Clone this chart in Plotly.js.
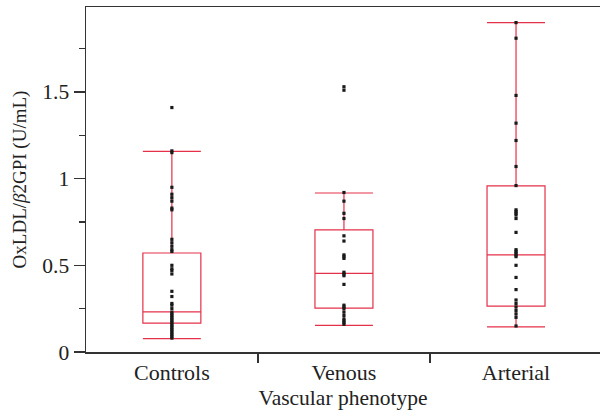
<!DOCTYPE html>
<html>
<head>
<meta charset="utf-8">
<script src="https://cdn.plot.ly/plotly-3.0.1.min.js"></script>
<style>html,body{margin:0;padding:0;background:#fff;}#chart{width:600px;height:418px;}</style>
</head>
<body>
<div id="chart"></div>
<script>
const categories = ['Controls', 'Venous', 'Arterial'];
// box statistics
const lowerWhisker = [0.077, 0.154, 0.145];
const q1Values     = [0.166, 0.253, 0.265];
const medianValues = [0.232, 0.454, 0.560];
const q3Values     = [0.571, 0.704, 0.958];
const upperWhisker = [1.157, 0.917, 1.900];
// individual observations
const controlsPoints = [1.41, 1.16, 1.15, 0.95, 0.91, 0.89, 0.87, 0.83, 0.82, 0.65, 0.63, 0.61, 0.59, 0.58,
  0.50, 0.48, 0.47, 0.45, 0.35, 0.32, 0.28, 0.27, 0.25, 0.23, 0.22, 0.21, 0.20, 0.19, 0.18, 0.17, 0.16,
  0.15, 0.14, 0.13, 0.12, 0.11, 0.10, 0.09, 0.08];
const venousPoints = [1.53, 1.51, 0.92, 0.87, 0.80, 0.77, 0.67, 0.64, 0.56, 0.55, 0.54, 0.46, 0.45, 0.44,
  0.39, 0.27, 0.26, 0.25, 0.23, 0.21, 0.19, 0.18, 0.17, 0.16];
const arterialPoints = [1.90, 1.81, 1.48, 1.32, 1.22, 1.07, 0.96, 0.82, 0.81, 0.80, 0.79, 0.77, 0.69,
  0.59, 0.58, 0.57, 0.56, 0.55, 0.50, 0.43, 0.36, 0.30, 0.28, 0.26, 0.24, 0.22, 0.20, 0.15];

const pointGroups = [controlsPoints, venousPoints, arterialPoints];
const px = [], py = [];
pointGroups.forEach((arr, i) => arr.forEach(v => { px.push(categories[i]); py.push(v); }));

const red = '#e5304a';
const font = "'Liberation Serif', 'Times New Roman', serif";

const data = [
  {
    type: 'box',
    x: categories,
    q1: q1Values,
    median: medianValues,
    q3: q3Values,
    lowerfence: lowerWhisker,
    upperfence: upperWhisker,
    boxpoints: false,
    width: 0.337,
    whiskerwidth: 1,
    line: {color: red, width: 1.2},
    fillcolor: 'rgba(255,255,255,0)',
    hoverinfo: 'skip',
    showlegend: false
  },
  {
    type: 'scatter',
    mode: 'markers',
    x: px,
    y: py,
    marker: {symbol: 'square', size: 3.2, color: '#1a1a1a', line: {width: 0}},
    showlegend: false
  }
];

const layout = {
  width: 600,
  height: 418,
  margin: {l: 86, r: 0, t: 7, b: 66},
  paper_bgcolor: '#fff',
  plot_bgcolor: '#fff',
  font: {family: font, size: 21, color: '#222'},
  showlegend: false,
  xaxis: {
    type: 'category',
    range: [-0.499, 2.488],
    showline: true,
    linecolor: '#333',
    linewidth: 1.5,
    mirror: true,
    ticks: 'outside',
    tickson: 'boundaries',
    ticklen: 9,
    tickwidth: 1.5,
    tickcolor: '#333',
    showgrid: false,
    zeroline: false,
    tickfont: {family: font, size: 22, color: '#222'},
    title: {text: 'Vascular phenotype', font: {family: font, size: 21.5, color: '#222'}, standoff: 6}
  },
  yaxis: {
    range: [0, 1.99],
    showline: true,
    linecolor: '#333',
    linewidth: 1.5,
    ticks: 'outside',
    ticklen: 11,
    tickwidth: 1.5,
    tickcolor: '#333',
    tickvals: [0, 0.5, 1, 1.5],
    ticktext: ['0', '0.5', '1', '1.5'],
    minor: {tickvals: [0.25, 0.75, 1.25, 1.75], ticklen: 6, tickwidth: 1.5, tickcolor: '#333', ticks: 'outside'},
    showgrid: false,
    zeroline: false,
    tickfont: {family: font, size: 21.5, color: '#222'},
    title: {text: 'OxLDL/<i>β</i>2GPI (U/mL)', font: {family: font, size: 19, color: '#222'}, standoff: 10}
  }
};

Plotly.newPlot('chart', data, layout, {staticPlot: true, displayModeBar: false});
</script>
</body>
</html>
